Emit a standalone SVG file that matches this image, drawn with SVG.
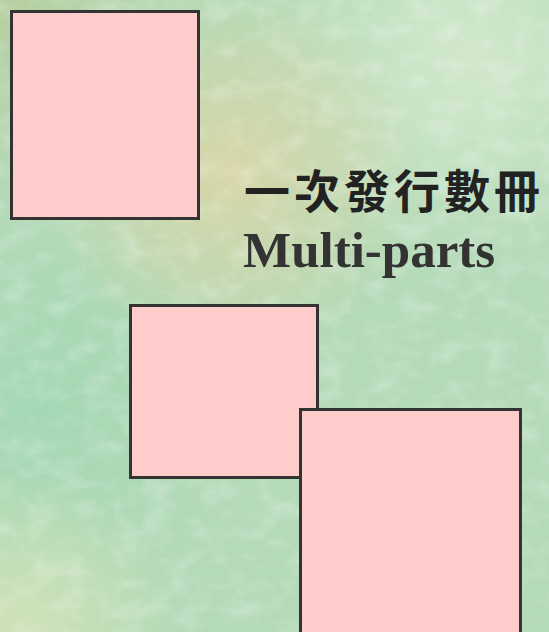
<svg xmlns="http://www.w3.org/2000/svg" width="549" height="632" viewBox="0 0 549 632">
  <style>
    .box { fill: #ffcccc; stroke: #333333; stroke-width: 3; }
    .zh { font-family: "Noto Sans CJK TC", "Noto Sans CJK SC", sans-serif; font-size: 46px; font-weight: 700; fill: #222222; }
    .en { font-family: "Liberation Serif", "Times New Roman", serif; font-size: 51px; font-weight: bold; fill: #333333; }
  </style>
  <defs>
    <radialGradient id="g1" cx="230" cy="170" r="190" gradientUnits="userSpaceOnUse">
      <stop offset="0" stop-color="#d8d6a8" stop-opacity="1"/>
      <stop offset="1" stop-color="#d8d6a8" stop-opacity="0"/>
    </radialGradient>
    <radialGradient id="g2" cx="470" cy="60" r="220" gradientUnits="userSpaceOnUse">
      <stop offset="0" stop-color="#d2e8cc" stop-opacity="1"/>
      <stop offset="1" stop-color="#d2e8cc" stop-opacity="0"/>
    </radialGradient>
    <radialGradient id="g3" cx="40" cy="400" r="200" gradientUnits="userSpaceOnUse">
      <stop offset="0" stop-color="#a4d8b4" stop-opacity="1"/>
      <stop offset="1" stop-color="#a4d8b4" stop-opacity="0"/>
    </radialGradient>
    <radialGradient id="g4" cx="20" cy="632" r="160" gradientUnits="userSpaceOnUse">
      <stop offset="0" stop-color="#cfe2b8" stop-opacity="1"/>
      <stop offset="1" stop-color="#cfe2b8" stop-opacity="0"/>
    </radialGradient>
    <radialGradient id="g5" cx="0" cy="0" r="200" gradientUnits="userSpaceOnUse">
      <stop offset="0" stop-color="#b6cfa0" stop-opacity="1"/>
      <stop offset="1" stop-color="#b6cfa0" stop-opacity="0"/>
    </radialGradient>
    <filter id="tex" x="0" y="0" width="100%" height="100%">
      <feTurbulence type="fractalNoise" baseFrequency="0.035 0.05" numOctaves="3" seed="7" result="n"/>
      <feColorMatrix in="n" type="matrix" values="0 0 0 0 1  0 0 0 0 1  0 0 0 0 1  0 0 0 -2.2 1.25"/>
    </filter>
  </defs>
  <g id="background">
    <rect x="0" y="0" width="549" height="632" fill="#b4dab8"/>
    <rect x="0" y="0" width="549" height="632" fill="url(#g3)"/>
    <rect x="0" y="0" width="549" height="632" fill="url(#g5)"/>
    <rect x="0" y="0" width="549" height="632" fill="url(#g2)"/>
    <rect x="0" y="0" width="549" height="632" fill="url(#g1)"/>
    <rect x="0" y="0" width="549" height="632" fill="url(#g4)"/>
    <rect x="0" y="0" width="549" height="632" filter="url(#tex)" opacity="0.25"/>
  </g>
  <g id="box1">
    <rect class="box" x="11.5" y="11.5" width="187" height="207"/>
  </g>
  <g id="title">
    <text class="zh" x="244" y="208" textLength="296" lengthAdjust="spacing">一次發行數冊</text>
    <text class="en" x="243" y="267">Multi-parts</text>
  </g>
  <g id="box2">
    <rect class="box" x="130.5" y="305.5" width="187" height="172"/>
  </g>
  <g id="box3">
    <rect class="box" x="300.5" y="409.5" width="220" height="240"/>
  </g>
  <g id="connectors"/>
</svg>
